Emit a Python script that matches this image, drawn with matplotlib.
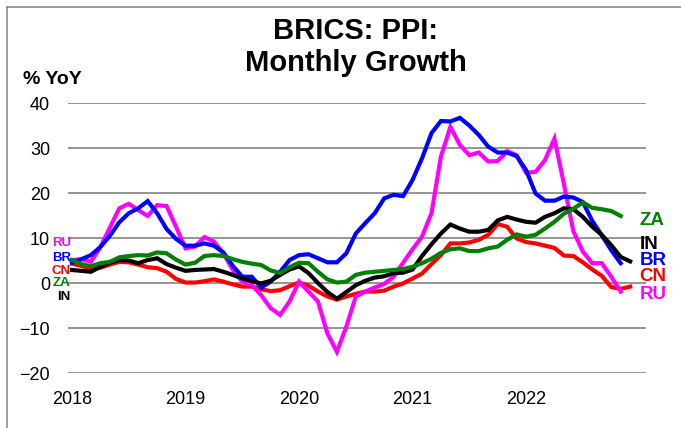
import matplotlib as mpl
mpl.use("Agg")
import matplotlib.pyplot as plt
from matplotlib.lines import Line2D
import numpy as np

plt.rcParams["font.family"] = ["Liberation Sans", "DejaVu Sans"]

START_YEAR = 2018
YEAR_TICKS = [2018, 2019, 2020, 2021, 2022]

# monthly y/y % from Jan 2018
br = [4.5, 5.3, 6.2, 8.0, 10.5, 13.5, 15.5, 16.6, 18.2, 15.5, 12.0, 9.8,
      8.3, 8.3, 8.8, 8.3, 6.8, 3.8, 1.4, 1.4, -1.0, 0.3, 2.5, 5.1,
      6.2, 6.4, 5.5, 4.6, 4.6, 6.6, 11.0, 13.3, 15.5, 18.8, 19.6, 19.3,
      22.9, 27.7, 33.3, 36.0, 35.9, 36.7, 35.0, 32.9, 30.3, 29.0, 29.0, 28.2,
      25.1, 19.9, 18.3, 18.3, 19.2, 19.0, 18.0, 13.8, 10.6, 7.3, 4.4]
ru = [5.1, 5.3, 4.7, 8.0, 12.3, 16.6, 17.6, 16.2, 14.9, 17.3, 17.1, 12.5,
      7.7, 8.1, 10.2, 9.2, 6.6, 2.9, 0.3, -0.4, -2.7, -5.6, -7.1, -4.1,
      0.3, -1.9, -4.1, -11.2, -15.3, -9.7, -3.0, -1.9, -1.0, -0.2, 1.4, 4.5,
      7.5, 10.3, 15.5, 28.1, 34.7, 30.7, 28.4, 29.0, 27.0, 27.1, 29.3, 28.4,
      24.5, 24.7, 27.3, 32.1, 22.0, 11.5, 7.0, 4.4, 4.4, 1.4, -1.9]
cn = [4.3, 3.8, 3.1, 3.4, 4.1, 4.7, 4.6, 4.1, 3.5, 3.3, 2.5, 0.9,
      0.1, 0.1, 0.4, 0.8, 0.3, -0.3, -0.8, -0.8, -1.4, -1.8, -1.6, -0.7,
      0.1, -0.6, -1.9, -3.0, -3.7, -3.0, -2.4, -1.9, -1.9, -1.7, -0.8, -0.1,
      1.0, 2.1, 4.2, 6.2, 8.8, 8.8, 9.0, 9.6, 10.7, 13.1, 12.5, 9.9,
      9.1, 8.8, 8.3, 7.8, 6.1, 6.0, 4.6, 3.0, 1.6, -0.9, -1.3, -0.8]
india = [2.9, 2.7, 2.5, 3.6, 4.5, 5.1, 5.0, 4.4, 5.1, 5.5, 4.2, 3.4,
         2.7, 2.9, 3.0, 3.1, 2.5, 1.8, 1.0, 0.4, -0.1, 0.5, 1.8, 3.0,
         3.7, 2.2, 0.0, -2.0, -3.5, -2.0, -0.5, 0.5, 1.2, 1.5, 2.2, 2.3,
         3.0, 6.0, 8.6, 11.0, 13.0, 12.1, 11.4, 11.4, 11.8, 13.9, 14.7, 14.1,
         13.6, 13.4, 14.7, 15.5, 16.6, 16.4, 14.7, 12.5, 10.7, 8.4, 5.8, 4.8]
za = [5.1, 4.2, 3.7, 4.4, 4.7, 5.7, 6.0, 6.2, 6.1, 6.8, 6.6, 5.2,
      4.1, 4.5, 6.0, 6.2, 6.0, 5.3, 4.7, 4.3, 4.0, 2.8, 2.2, 3.5,
      4.5, 4.4, 2.5, 0.8, 0.1, 0.3, 1.8, 2.3, 2.5, 2.7, 2.9, 3.1,
      3.6, 4.4, 5.4, 6.7, 7.5, 7.7, 7.1, 7.1, 7.7, 8.1, 9.6, 10.8,
      10.3, 10.7, 12.1, 13.6, 15.4, 16.5, 17.9, 16.7, 16.4, 16.0, 14.9]

names = ["CN", "RU", "BR", "IN", "ZA"]
series = [cn, ru, br, india, za]
colors = {"BR": "#0000FF", "RU": "#FF00FF", "CN": "#FF0000",
          "IN": "#000000", "ZA": "#008000"}

# label positions (value units) at the start and end of the lines
left_label_y = {"RU": 8.8, "BR": 5.6, "CN": 2.6, "ZA": -0.1, "IN": -3.1}
right_label_y = {"ZA": 13.8, "IN": 8.6, "BR": 5.0, "CN": 1.4, "RU": -2.5}

fig = plt.figure(figsize=(6.81, 4.28), dpi=100)
ax = fig.add_axes([0.0999, 0.1285, 0.8488, 0.6308])

for name, vals in zip(names, series):
    x = START_YEAR + np.arange(len(vals)) / 12.0
    ax.plot(x, vals, color=colors[name], lw=3.0, solid_joinstyle="miter",
            zorder=3)

ax.set_ylim(-20, 40)
ax.set_xlim(2017.965, 2023.057)
ax.set_yticks(np.arange(-20, 41, 10))
ax.set_xticks(YEAR_TICKS)
ax.set_xticklabels([str(y) for y in YEAR_TICKS])
ax.yaxis.grid(True, color="#8c8c8c", lw=1.3)
ax.set_axisbelow(True)
for s in ax.spines.values():
    s.set_visible(False)
ax.tick_params(axis="both", length=0, labelsize=13)
ax.tick_params(axis="y", pad=13)
ax.tick_params(axis="x", pad=13)

for name, yv in left_label_y.items():
    ax.text(2017.99, yv, name, color=colors[name], fontsize=9.5,
            fontweight="bold", ha="right", va="center")
for name, yv in right_label_y.items():
    ax.text(2023.0, yv, name, color=colors[name], fontsize=13.5,
            fontweight="bold", ha="left", va="center", clip_on=False)

fig.text(0.522, 1 - 31 / 428, "BRICS: PPI:", fontsize=21, fontweight="bold",
         ha="center", va="center")
fig.text(0.522, 1 - 63 / 428, "Monthly Growth", fontsize=21,
         fontweight="bold", ha="center", va="center")
fig.text(23 / 681, 1 - 79 / 428, "% YoY", fontsize=14, fontweight="bold",
         ha="left", va="center")

# outer frame (only top and left edges visible)
fig.add_artist(Line2D([6.5 / 681, 6.5 / 681], [0, 1 - 6.5 / 428],
                      color="#8c8c8c", lw=1.2))
fig.add_artist(Line2D([6.5 / 681, 1], [1 - 6.5 / 428, 1 - 6.5 / 428],
                      color="#8c8c8c", lw=1.2))

fig.savefig("out.png", dpi=100)
